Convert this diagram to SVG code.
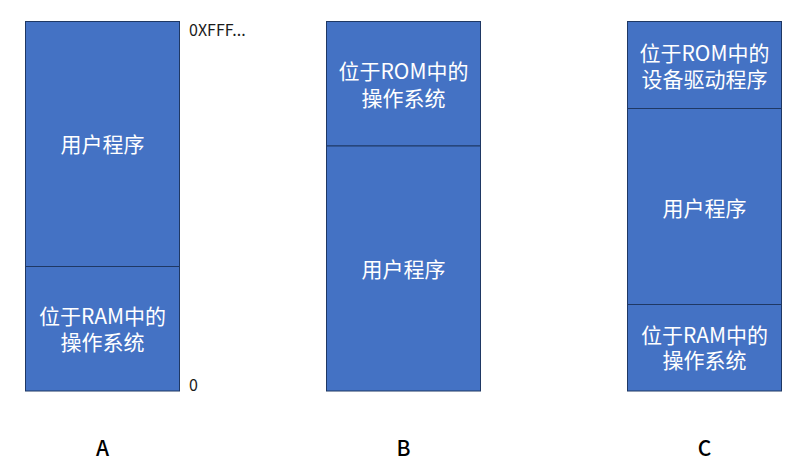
<svg xmlns="http://www.w3.org/2000/svg" width="802" height="467" viewBox="0 0 802 467">
<style>
.blk{fill:#4472C4;stroke:#1F3864;stroke-width:1}
.t{font-family:"Noto Sans CJK SC","Microsoft YaHei",sans-serif;font-size:21px;fill:#FFFFFF;text-anchor:middle;dominant-baseline:central}
.a{font-family:"Noto Sans CJK SC",sans-serif;font-size:16px;fill:#1A1A1A;dominant-baseline:central}
.lbl{font-family:"Noto Sans CJK SC",sans-serif;font-size:21px;font-weight:500;fill:#000000;text-anchor:middle;dominant-baseline:central}
</style>
<rect width="802" height="467" fill="#FFFFFF"/>
<g id="A">
<g id="A-user"><rect class="blk" x="25.5" y="21.5" width="154" height="245"/><text class="t" x="102.5" y="143">用户程序</text></g>
<g id="A-os"><rect class="blk" x="25.5" y="266.5" width="154" height="124.5"/><text class="t" x="102.5" y="315">位于RAM中的</text><text class="t" x="102.5" y="341">操作系统</text></g>
<text class="a" x="189" y="29">0XFFF...</text>
<text class="a" x="189" y="384">0</text>
<text class="lbl" x="102.5" y="447">A</text>
</g>
<g id="B">
<g id="B-os"><rect class="blk" x="326.5" y="21.5" width="154" height="124.5"/><text class="t" x="403.5" y="70">位于ROM中的</text><text class="t" x="403.5" y="97">操作系统</text></g>
<g id="B-user"><rect class="blk" x="326.5" y="146" width="154" height="245"/><text class="t" x="403.5" y="268">用户程序</text></g>
<text class="lbl" x="403.5" y="447">B</text>
</g>
<g id="C">
<g id="C-drv"><rect class="blk" x="627.5" y="21.5" width="154" height="87"/><text class="t" x="704.5" y="52">位于ROM中的</text><text class="t" x="704.5" y="78">设备驱动程序</text></g>
<g id="C-user"><rect class="blk" x="627.5" y="108.5" width="154" height="196"/><text class="t" x="704.5" y="207">用户程序</text></g>
<g id="C-os"><rect class="blk" x="627.5" y="304.5" width="154" height="86.5"/><text class="t" x="704.5" y="334">位于RAM中的</text><text class="t" x="704.5" y="359">操作系统</text></g>
<text class="lbl" x="704.5" y="447">C</text>
</g>
<g id="connectors"/>
</svg>
